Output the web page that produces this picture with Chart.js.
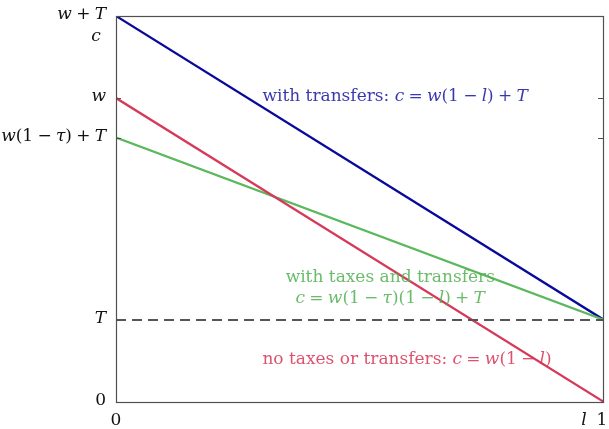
<!DOCTYPE html>
<html>
<head>
<meta charset="utf-8">
<title>Budget constraint</title>
<script src="https://cdn.jsdelivr.net/npm/chart.js"></script>
<style>
  html, body { margin: 0; padding: 0; background: #fff; }
  canvas { display: block; }
</style>
</head>
<body>
<canvas id="chart" width="609" height="429"></canvas>
<script>
// leisure share l on x, consumption c on y (w = 1)
const leisure = [0, 1];
const noTaxes = [1.0, 0.0];
const withTransfers = [1.27, 0.27];
const taxesTransfers = [0.87, 0.27];
const transferLine = [0.27, 0.27];

// operator spacing in math runs
const S = '\u2005';
const MINUS = '(1' + S + '\u2212' + S;
const PLUS = ')' + S + '+' + S;
const EQ = S + '=' + S;

// y tick values and their labels, as [text, italic] runs
const yTicks = [1.27, 1.0, 0.87, 0.27, 0];
const yTickLabels = [
  [['w', 1], [S + '+' + S, 0], ['T', 1]],
  [['w', 1]],
  [['w', 1], [MINUS, 0], ['\u03c4', 1], [PLUS, 0], ['T', 1]],
  [['T', 1]],
  [['0', 0]]
];

const SERIF = '"DejaVu Serif", "Liberation Serif", serif';
const SIZE = 17;

function runsWidth(ctx, runs) {
  let w = 0;
  for (const [t, it] of runs) {
    ctx.font = (it ? 'italic ' : '') + SIZE + 'px ' + SERIF;
    w += ctx.measureText(t).width;
  }
  return w;
}

function drawRuns(ctx, runs, x, y, align, color) {
  const total = runsWidth(ctx, runs);
  let cx = align === 'right' ? x - total : align === 'center' ? x - total / 2 : x;
  ctx.fillStyle = color;
  ctx.textBaseline = 'middle';
  ctx.textAlign = 'left';
  for (const [t, it] of runs) {
    ctx.font = (it ? 'italic ' : '') + SIZE + 'px ' + SERIF;
    ctx.fillText(t, cx, y);
    cx += ctx.measureText(t).width;
  }
}

const frame = {
  id: 'frame',
  afterDatasetsDraw(chart) {
    const ctx = chart.ctx;
    const a = chart.chartArea;
    const xs = chart.scales.x, ys = chart.scales.y;
    ctx.save();
    ctx.strokeStyle = '#505050';
    ctx.lineWidth = 1.2;
    ctx.strokeRect(Math.round(a.left) + 0.5, Math.round(a.top) + 0.5,
      Math.round(a.right - a.left) - 1, Math.round(a.bottom - a.top));
    // inward ticks on both sides
    ctx.lineWidth = 1;
    yTicks.forEach(v => {
      const py = Math.round(ys.getPixelForValue(v)) + 0.5;
      ctx.beginPath();
      ctx.moveTo(a.left, py); ctx.lineTo(a.left + 5, py);
      ctx.moveTo(a.right, py); ctx.lineTo(a.right - 6, py);
      ctx.stroke();
    });
    // tick labels
    yTicks.forEach((v, i) => {
      drawRuns(ctx, yTickLabels[i], a.left - 10, ys.getPixelForValue(v) - 1, 'right', '#111');
    });
    drawRuns(ctx, [['c', 1]], a.left - 20, ys.getPixelForValue(1.27) + 21, 'center', '#111');
    const by = a.bottom + 19;
    drawRuns(ctx, [['0', 0]], xs.getPixelForValue(0), by, 'center', '#111');
    drawRuns(ctx, [['1', 0]], xs.getPixelForValue(1) - 2, by, 'center', '#111');
    drawRuns(ctx, [['l', 1]], xs.getPixelForValue(1) - 20, by, 'center', '#111');

    // curve annotations
    drawRuns(ctx, [['with transfers: ', 0], ['c', 1], [EQ, 0], ['w', 1], [MINUS, 0], ['l', 1], [PLUS, 0], ['T', 1]],
      xs.getPixelForValue(0.3), ys.getPixelForValue(1.0) - 1, 'left', 'rgba(20,20,160,0.85)');
    drawRuns(ctx, [['with taxes and transfers', 0]],
      xs.getPixelForValue(0.562), ys.getPixelForValue(0.41), 'center', 'rgba(80,175,80,0.85)');
    drawRuns(ctx, [['c', 1], [EQ, 0], ['w', 1], [MINUS, 0], ['\u03c4', 1], [')' + MINUS, 0], ['l', 1], [PLUS, 0], ['T', 1]],
      xs.getPixelForValue(0.562), ys.getPixelForValue(0.34), 'center', 'rgba(80,175,80,0.85)');
    drawRuns(ctx, [['no taxes or transfers: ', 0], ['c', 1], [EQ, 0], ['w', 1], [MINUS, 0], ['l', 1], [')', 0]],
      xs.getPixelForValue(0.3), ys.getPixelForValue(0.138), 'left', 'rgba(215,50,85,0.85)');
    ctx.restore();
  }
};

new Chart(document.getElementById('chart'), {
  type: 'line',
  data: {
    labels: leisure,
    datasets: [
      { data: transferLine, borderColor: '#555', borderWidth: 2, borderDash: [10, 6] },
      { data: noTaxes, borderColor: '#d63a5a', borderWidth: 2.3 },
      { data: taxesTransfers, borderColor: '#5cb85c', borderWidth: 2.3 },
      { data: withTransfers, borderColor: '#0a0a9a', borderWidth: 2.3 }
    ]
  },
  options: {
    responsive: false,
    animation: false,
    elements: { point: { radius: 0 }, line: { tension: 0 } },
    layout: { padding: { left: 116, top: 16, right: 5, bottom: 27 } },
    plugins: { legend: { display: false }, tooltip: { enabled: false } },
    scales: {
      x: { type: 'linear', min: 0, max: 1, display: false },
      y: { min: 0, max: 1.27, display: false }
    }
  },
  plugins: [frame]
});
</script>
</body>
</html>
